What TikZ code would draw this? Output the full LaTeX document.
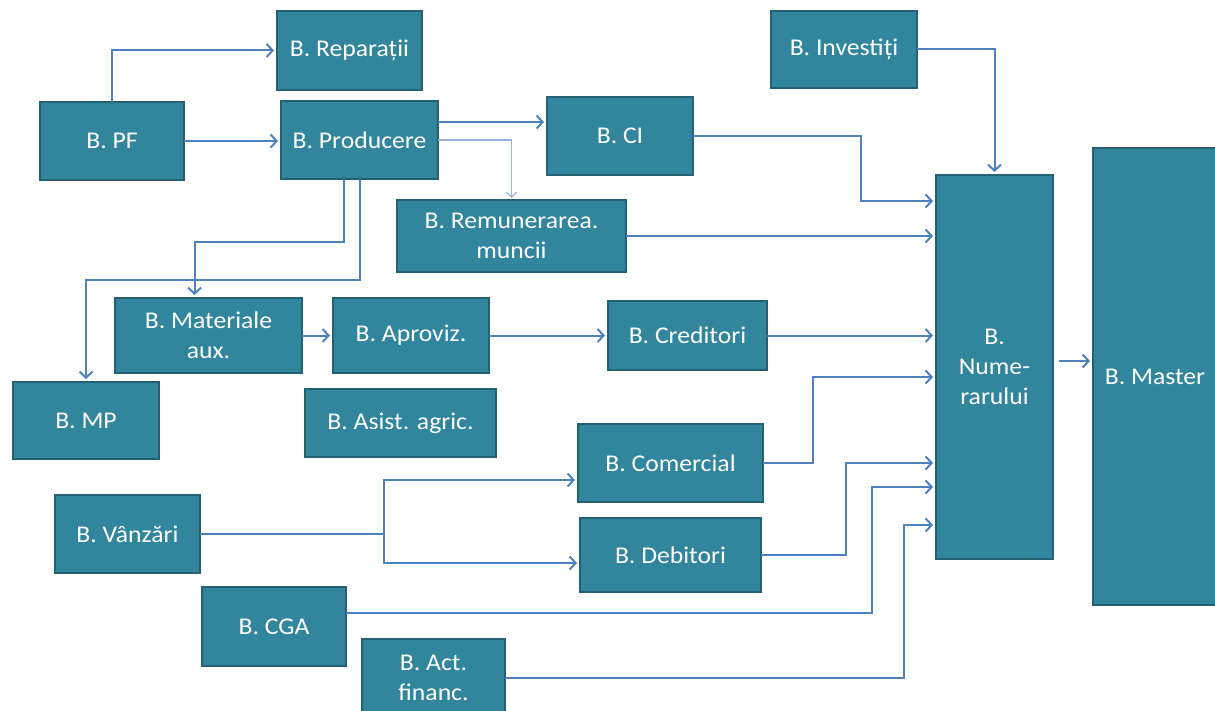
\documentclass[tikz,border=0pt]{standalone}
\usepackage{fontspec}
\setmainfont{Carlito}[FakeStretch=1.07]
\usetikzlibrary{arrows.meta}
\definecolor{boxfill}{RGB}{49,133,156}
\definecolor{boxline}{RGB}{36,98,115}
\definecolor{arrowc}{RGB}{79,129,189}
\definecolor{thinc}{RGB}{149,179,215}
\begin{document}
\begin{tikzpicture}[x=1pt,y=-1pt,
  box/.style={draw=boxline, line width=1.2pt, fill=boxfill, text=white, inner sep=0pt, outer sep=0pt, align=center, font=\fontsize{24}{30}\selectfont},
  arr/.style={draw=arrowc, line width=2pt, -{Straight Barb[length=6pt,width=13pt]}, shorten >=3pt},
  thinarr/.style={draw=thinc, line width=1.2pt, -{Straight Barb[length=5pt,width=10pt]}, shorten >=2pt}]
\useasboundingbox (0,0) rectangle (1215,711);
\fill[white] (0,0) rectangle (1215,711);
% boxes
\node[box, minimum width=145pt, minimum height=79pt] (rep) at (349.5,50.5) {B. Reparații};
\node[box, minimum width=144pt, minimum height=78pt] (pf) at (112,141) {B. PF};
\node[box, minimum width=157pt, minimum height=78pt] (prod) at (359.5,140) {B. Producere};
\node[box, minimum width=146pt, minimum height=78pt] (ci) at (620,136) {B. CI};
\node[box, minimum width=229pt, minimum height=72pt] (rem) at (511.5,236) {B. Remunerarea.\\muncii};
\node[box, minimum width=146pt, minimum height=77pt] (inv) at (844,49.5) {B. Investiți};
\node[box, minimum width=117pt, minimum height=384pt] (num) at (994.5,367) {B.\\Nume-\\rarului};
\node[box, minimum width=124pt, minimum height=457pt] (mast) at (1155,376.5) {B. Master};
\node[box, minimum width=187pt, minimum height=75pt] (mat) at (208.5,335.5) {B. Materiale\\aux.};
\node[box, minimum width=156pt, minimum height=75pt] (apr) at (411,335.5) {B. Aproviz.};
\node[box, minimum width=159pt, minimum height=69pt] (cred) at (687.5,335.5) {B. Creditori};
\node[box, minimum width=146pt, minimum height=77pt] (mp) at (86,420.5) {B. MP};
\node[box, minimum width=191pt, minimum height=68pt] (asist) at (400.5,423) {B. Asist. agric.};
\node[box, minimum width=185pt, minimum height=78pt] (com) at (670.5,463) {B. Comercial};
\node[box, minimum width=181pt, minimum height=74pt] (deb) at (670.5,555) {B. Debitori};
\node[box, minimum width=145pt, minimum height=78pt] (van) at (127.5,534) {B. Vânzări};
\node[box, minimum width=144pt, minimum height=79pt] (cga) at (274,626.5) {B. CGA};
\node[box, minimum width=143pt, minimum height=78pt] (act) at (433.5,678) {B. Act.\\financ.};
% connectors
\draw[arr] (pf.north) |- (rep.west);
\draw[arr] (pf.east) -- (pf.east -| prod.west);
\coordinate (p1) at ([yshift=18pt]prod.east);
\draw[arr] (p1) -- (p1 -| ci.west);
\draw[thinarr] (prod.east) -| (rem.north);
\draw[arr] ([xshift=-16pt]prod.south) -- ++(0,63) -| ([xshift=-14pt]mat.north);
\draw[arr] (prod.south) -- ++(0,101) -| (mp.north);
\draw[arr] (ci.east) -- ++(168,0) |- ([yshift=166pt]num.west);
\draw[arr] (rem.east) -- (rem.east -| num.west);
\draw[arr] (inv.east) -| (num.north);
\draw[arr] (mat.east) -- (apr.west);
\draw[arr] (apr.east) -- (apr.east -| cred.west);
\draw[arr] (cred.east) -- (cred.east -| num.west);
\draw[arr] (com.east) -- ++(50,0) |- ([yshift=-10pt]num.west);
\draw[arr] (deb.east) -- ++(85,0) |- ([yshift=-96pt]num.west);
\draw[arr] ([yshift=14pt]cga.east) -- ++(526,0) |- ([yshift=-120pt]num.west);
\draw[arr] (act.east) -- ++(399,0) |- ([yshift=-158pt]num.west);
\coordinate (vs) at ([xshift=184pt]van.east);
\draw[draw=arrowc, line width=2pt] (van.east) -- (vs);
\draw[arr] (vs) |- ([yshift=-17pt]com.west);
\draw[arr] (vs) |- ([yshift=-8pt]deb.west);
\draw[arr, shorten <=6pt] ([yshift=6pt]num.east) -- ([yshift=6pt]num.east -| mast.west);
\end{tikzpicture}
\end{document}
